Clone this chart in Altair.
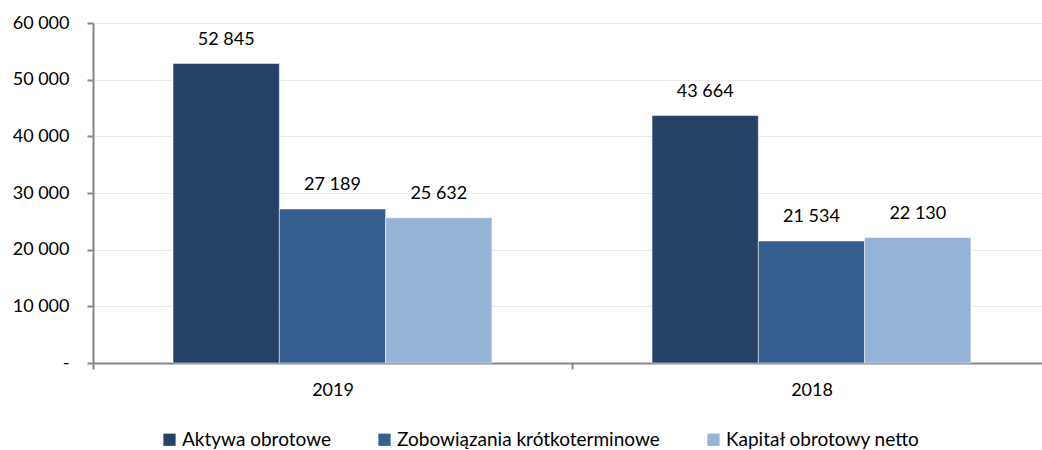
import altair as alt
import pandas as pd

years = ["2019", "2018"]
series = ["Aktywa obrotowe", "Zobowiązania krótkoterminowe", "Kapitał obrotowy netto"]
values_2019 = [52845, 27189, 25632]
values_2018 = [43664, 21534, 22130]
colors = ["#264266", "#376092", "#95B3D7"]

rows = []
for y, vals in zip(years, [values_2019, values_2018]):
    for i, (s, v) in enumerate(zip(series, vals)):
        rows.append({"year": y, "series": s, "order": i, "value": v})
df = pd.DataFrame(rows)

FONT = "Lato"
FS = 18

x = alt.X("year:N", sort=years, title=None,
          scale=alt.Scale(paddingInner=0, paddingOuter=0, range=[0, 958]),
          axis=alt.Axis(tickBand="extent", labelAngle=0, labelFontSize=FS,
                        labelColor="#000000", labelFont=FONT, labelPadding=12,
                        domainColor="#868686", domainWidth=2, tickColor="#868686",
                        tickWidth=2, tickSize=6, grid=False))
xo = alt.XOffset("series:N", sort=series,
                 scale=alt.Scale(paddingInner=0, paddingOuter=0.753))
y = alt.Y("value:Q", title=None,
          scale=alt.Scale(domain=[0, 60000], nice=False),
          axis=alt.Axis(values=[0, 10000, 20000, 30000, 40000, 50000, 60000],
                        labelExpr="datum.value == 0 ? '-' : replace(format(datum.value, ','), ',', ' ')",
                        labelFontSize=FS, labelColor="#000000", labelFont=FONT,
                        labelPadding=18, domainColor="#868686", domainWidth=2,
                        tickColor="#868686", tickWidth=2, tickSize=6,
                        gridColor="#EBEBEB", gridWidth=1))

color = alt.Color("series:N", sort=series,
                  scale=alt.Scale(domain=series, range=colors),
                  legend=alt.Legend(title=None, orient="none", direction="horizontal",
                                    legendX=67, legendY=407, symbolType="square",
                                    symbolSize=150, symbolStrokeWidth=0,
                                    labelFontSize=19, labelFont=FONT, labelColor="#000000",
                                    labelLimit=0, columnPadding=44, labelOffset=3))

bars = alt.Chart(df).mark_bar(stroke="white", strokeWidth=0.5).encode(
    x=x, xOffset=xo, y=y, color=color)

labels = alt.Chart(df).transform_calculate(
    lab="replace(format(datum.value, ','), ',', ' ')"
).mark_text(dy=-24, fontSize=FS, font=FONT, color="#000000").encode(
    x=alt.X("year:N", sort=years), xOffset=xo, y="value:Q", text="lab:N")

chart = alt.layer(bars, labels).properties(
    width=949, height=340,
    autosize=alt.AutoSizeParams(type="none"),
    padding={"left": 93, "top": 23, "right": 0, "bottom": 87},
).configure_view(stroke=None).configure(background="white")

chart.save("out.html", embed_options={"renderer": "svg", "actions": False})
